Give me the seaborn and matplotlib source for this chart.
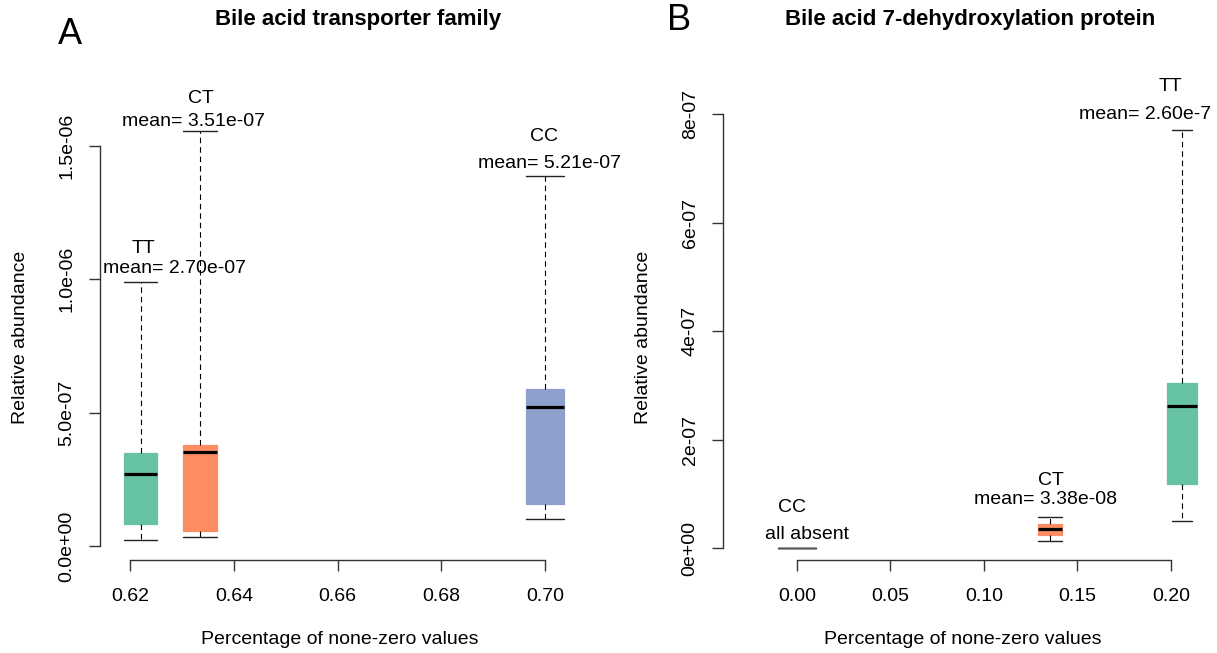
import matplotlib
matplotlib.use("Agg")
import matplotlib.pyplot as plt
import pandas as pd
import seaborn as sns

# ---- panel A: Bile acid transporter family ----
a_title = "Bile acid transporter family"
a_groups = ["TT", "CT", "CC"]
a_pct = [0.622, 0.6334, 0.70]
# five numbers: low whisker, q1, middle line, q3, high whisker
a_tt = [2.4e-08, 8.4e-08, 2.70e-07, 3.50e-07, 9.89e-07]
a_ct = [3.4e-08, 5.7e-08, 3.51e-07, 3.80e-07, 1.557e-06]
a_cc = [1.02e-07, 1.56e-07, 5.21e-07, 5.89e-07, 1.387e-06]
a_means = ["mean= 2.70e-07", "mean= 3.51e-07", "mean= 5.21e-07"]
a_xticks = [0.62, 0.64, 0.66, 0.68, 0.70]
a_xticklabels = ["0.62", "0.64", "0.66", "0.68", "0.70"]
a_yticks = [0, 5e-07, 1e-06, 1.5e-06]
a_yticklabels = ["0.0e+00", "5.0e-07", "1.0e-06", "1.5e-06"]

# ---- panel B: Bile acid 7-dehydroxylation protein ----
b_title = "Bile acid 7-dehydroxylation protein"
b_groups = ["CC", "CT", "TT"]
b_pct = [0.0, 0.1354, 0.2059]
b_cc = [0, 0, 0, 0, 0]
b_ct = [1.35e-08, 2.45e-08, 3.45e-08, 4.37e-08, 5.71e-08]
b_tt = [4.98e-08, 1.185e-07, 2.61e-07, 3.036e-07, 7.70e-07]
b_means = ["all absent", "mean= 3.38e-08", "mean= 2.60e-7"]
b_xticks = [0.0, 0.05, 0.10, 0.15, 0.20]
b_xticklabels = ["0.00", "0.05", "0.10", "0.15", "0.20"]
b_yticks = [0, 2e-07, 4e-07, 6e-07, 8e-07]
b_yticklabels = ["0e+00", "2e-07", "4e-07", "6e-07", "8e-07"]

xlab = "Percentage of none-zero values"
ylab = "Relative abundance"

palette = {"TT": "#66C2A5", "CT": "#FC8D62", "CC": "#8DA0CB"}

# box / cap widths in data units, label offsets in pixels (name, mean)
a_widths = [0.00642, 0.00663, 0.00727]
a_capw = [0.00642, 0.00663, 0.00727]
a_offsets = [((3, 34), (34, 14)), ((1, 32), (-6, 9)), ((-1, 40), (4, 13))]
b_widths = [0.0202, 0.0127, 0.0164]
b_capw = [0.0202, 0.0127, 0.0107]
b_offsets = [((-5, 41), (10, 14)), ((1, 37), (-5, 18)), ((-12, 44), (-37, 16))]

W, H = 1217, 653
sns.set_style("ticks")
plt.rcParams["font.family"] = ["Liberation Sans", "DejaVu Sans"]
plt.rcParams["text.color"] = "black"
plt.rcParams["axes.labelcolor"] = "black"
plt.rcParams["xtick.labelcolor"] = "black"
plt.rcParams["ytick.labelcolor"] = "black"

fig = plt.figure(figsize=(W / 100, H / 100), dpi=100)


def add_axes(left, right, top, bottom):
    return fig.add_axes([left / W, 1 - bottom / H, (right - left) / W, (bottom - top) / H])


def draw_panel(ax, groups, pct, boxes, widths, capw, means, offsets):
    df = pd.DataFrame({
        "pct": [p for p, b in zip(pct, boxes) for _ in b],
        "value": [v for b in boxes for v in b],
        "group": [g for g, b in zip(groups, boxes) for _ in b],
    })
    for g, w, cw in zip(groups, widths, capw):
        sub = df[df["group"] == g]
        absent = sub["value"].max() == 0
        col = palette[g]
        sns.boxplot(data=sub, x="pct", y="value", native_scale=True, orient="x",
                    width=w, color=col, saturation=1, whis=(0, 100), showfliers=False,
                    linecolor="black", linewidth=0.9, capwidths=cw,
                    boxprops={"facecolor": col, "edgecolor": "#555555" if absent else col},
                    whiskerprops={"linestyle": (0, (5, 3.5)), "linewidth": 0.8},
                    medianprops={"linewidth": 0.9 if absent else 2.3,
                                 "color": "#555555" if absent else "black"},
                    capprops={"linewidth": 1.0, "color": "#222222"},
                    ax=ax)
    for g, x, b, m, (on, om) in zip(groups, pct, boxes, means, offsets):
        top = max(b)
        ax.annotate(g, (x, top), xytext=(on[0] * 0.72, on[1] * 0.72),
                    textcoords="offset points", ha="center", va="center",
                    fontsize=14, annotation_clip=False)
        ax.annotate(m, (x, top), xytext=(om[0] * 0.72, om[1] * 0.72),
                    textcoords="offset points", ha="center", va="center",
                    fontsize=14, annotation_clip=False)


def style_axes(ax, title, xticks, xticklabels, yticks, yticklabels, w_px, h_px, ylab_dx, xlab_x):
    sns.despine(ax=ax)
    ax.set_xticks(xticks, xticklabels)
    ax.set_yticks(yticks, yticklabels, rotation=90, va="center")
    ax.spines["bottom"].set_bounds(xticks[0], xticks[-1])
    ax.spines["left"].set_bounds(yticks[0], yticks[-1])
    for s in ["bottom", "left"]:
        ax.spines[s].set_color("#333333")
        ax.spines[s].set_linewidth(1.0)
    ax.tick_params(length=8, width=1.0, color="#333333", labelsize=14, labelcolor="black")
    ax.tick_params(axis="x", pad=12)
    ax.tick_params(axis="y", pad=9.5)
    ax.set_xlabel(xlab, fontsize=14)
    ax.set_ylabel(ylab, fontsize=14)
    ax.xaxis.set_label_coords(xlab_x / w_px, -80 / h_px)
    ax.xaxis.label.set_va("center")
    ax.yaxis.set_label_coords(ylab_dx / w_px, 0.5)
    ax.yaxis.label.set_va("center")
    ax.set_title(title, fontsize=16, fontweight="bold", y=1 + 95 / h_px, pad=0, va="center")


# panel A
axA = add_axes(100, 616, 114, 560)
draw_panel(axA, a_groups, a_pct, [a_tt, a_ct, a_cc], a_widths, a_capw, a_means, a_offsets)
axA.set_xlim(0.61416, 0.71367)
axA.set_ylim(-5.25e-08, 1.6198e-06)
style_axes(axA, a_title, a_xticks, a_xticklabels, a_yticks, a_yticklabels, 516, 446, -79, 240)

# panel B
axB = add_axes(723, 1217, 114, 560)
draw_panel(axB, b_groups, b_pct, [b_cc, b_ct, b_tt], b_widths, b_capw, b_means, b_offsets)
axB.set_xlim(-0.03957, 0.2246)
axB.set_ylim(-2.21e-08, 8.0e-07)
style_axes(axB, b_title, b_xticks, b_xticklabels, b_yticks, b_yticklabels, 494, 446, -80, 240)

fig.text(70 / W, 1 - 35 / H, "A", fontsize=26, ha="center", va="center")
fig.text(679 / W, 1 - 21 / H, "B", fontsize=26, ha="center", va="center")

fig.savefig("out.png", dpi=100)
